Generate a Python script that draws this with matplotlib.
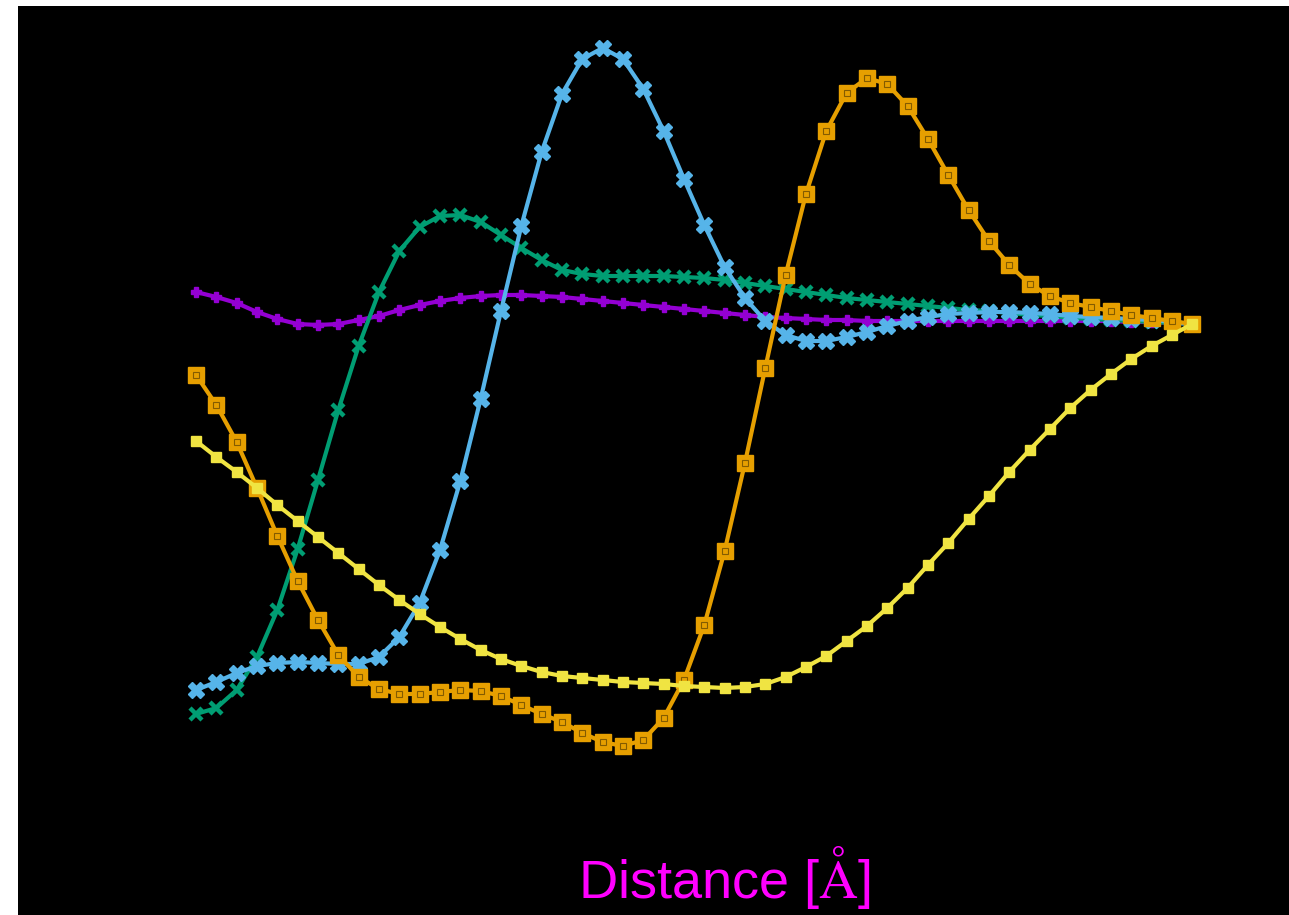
import numpy as np
import matplotlib
matplotlib.use('Agg')
import matplotlib.pyplot as plt

plt.rcParams['font.family'] = ['Liberation Sans', 'DejaVu Sans']
plt.rcParams['mathtext.fontset'] = 'stix'

# distance grid (50 points)
distance = np.round(1.0 + 0.1 * np.arange(50), 2)

purple = [0.32, 0.27, 0.21, 0.12, 0.05, 0.00, -0.01, 0.00, 0.04, 0.08,
          0.14, 0.19, 0.23, 0.26, 0.28, 0.29, 0.29, 0.28, 0.27, 0.25,
          0.23, 0.21, 0.19, 0.17, 0.15, 0.13, 0.11, 0.09, 0.07, 0.06,
          0.05, 0.04, 0.04, 0.03, 0.03, 0.03, 0.03, 0.03, 0.03, 0.03,
          0.03, 0.03, 0.03, 0.03, 0.03, 0.03, 0.02, 0.02, 0.01, 0.00]

green = [-3.90, -3.84, -3.66, -3.33, -2.86, -2.25, -1.56, -0.86, -0.22, 0.32,
         0.73, 0.97, 1.08, 1.09, 1.02, 0.89, 0.76, 0.64, 0.54, 0.50,
         0.48, 0.48, 0.48, 0.48, 0.47, 0.46, 0.44, 0.41, 0.38, 0.35,
         0.32, 0.29, 0.26, 0.24, 0.22, 0.20, 0.18, 0.16, 0.14, 0.13,
         0.11, 0.09, 0.08, 0.06, 0.05, 0.04, 0.03, 0.02, 0.01, 0.00]

blue = [-3.66, -3.58, -3.49, -3.42, -3.39, -3.38, -3.39, -3.40, -3.40, -3.33,
        -3.13, -2.79, -2.26, -1.57, -0.75, 0.13, 0.98, 1.72, 2.30, 2.65,
        2.76, 2.65, 2.35, 1.93, 1.45, 0.99, 0.57, 0.26, 0.03, -0.11,
        -0.17, -0.17, -0.13, -0.08, -0.02, 0.03, 0.07, 0.10, 0.11, 0.12,
        0.12, 0.11, 0.10, 0.08, 0.07, 0.06, 0.05, 0.04, 0.02, 0.00]

orange = [-0.51, -0.81, -1.18, -1.64, -2.12, -2.57, -2.96, -3.31, -3.53, -3.65,
          -3.70, -3.70, -3.68, -3.66, -3.67, -3.72, -3.81, -3.90, -3.98, -4.09,
          -4.18, -4.22, -4.16, -3.94, -3.56, -3.01, -2.27, -1.39, -0.44, 0.49,
          1.30, 1.93, 2.31, 2.46, 2.40, 2.18, 1.85, 1.49, 1.14, 0.83,
          0.59, 0.40, 0.28, 0.21, 0.17, 0.13, 0.09, 0.06, 0.03, 0.00]

yellow = [-1.17, -1.33, -1.48, -1.64, -1.81, -1.97, -2.13, -2.29, -2.45, -2.61,
          -2.76, -2.90, -3.03, -3.15, -3.26, -3.35, -3.42, -3.48, -3.52, -3.54,
          -3.56, -3.58, -3.59, -3.60, -3.62, -3.63, -3.64, -3.63, -3.60, -3.53,
          -3.43, -3.32, -3.17, -3.02, -2.84, -2.64, -2.41, -2.19, -1.95, -1.72,
          -1.48, -1.26, -1.05, -0.84, -0.66, -0.50, -0.35, -0.22, -0.11, 0.00]

fig = plt.figure(figsize=(12.89, 9.15), dpi=100)
fig.patch.set_facecolor('white')
ax = fig.add_axes([18 / 1289, 0, 1 - 18 / 1289, 909 / 915])
ax.set_facecolor('black')

lw = 3
ax.plot(distance, purple, color='#9400D3', lw=lw, marker='P', ms=7.5, zorder=2)
ax.plot(distance, green, color='#009E73', lw=lw, marker='x', ms=9, mew=3.2, zorder=3)
ax.plot(distance, blue, color='#56B4E9', lw=lw, marker='X', ms=11, zorder=4)
ax.plot(distance, orange, color='#E69F00', lw=lw, marker='s', ms=11, zorder=5)
ax.plot(distance, orange, ls='none', marker='s', ms=5, mfc='none', mec='#5a3e00',
        mew=0.8, alpha=0.7, zorder=5.5)
ax.plot(distance, yellow, color='#F0E442', lw=lw, marker='s', ms=7.5, zorder=6)

# axis limits chosen so curves sit where the reference places them
ax.set_xlim(1.0 - 0.1 * 8.756, 1.0 + 0.1 * 53.76)
ax.set_ylim(-5.91, 3.18)
ax.set_xticks([])
ax.set_yticks([])
for s in ax.spines.values():
    s.set_visible(False)

fig.text(724 / 1289, 4 / 915, r'Distance [$\mathrm{\AA}$]', color='#FF00FF',
         fontsize=39, ha='center', va='bottom')

fig.savefig('out.png', dpi=100, facecolor='white')
